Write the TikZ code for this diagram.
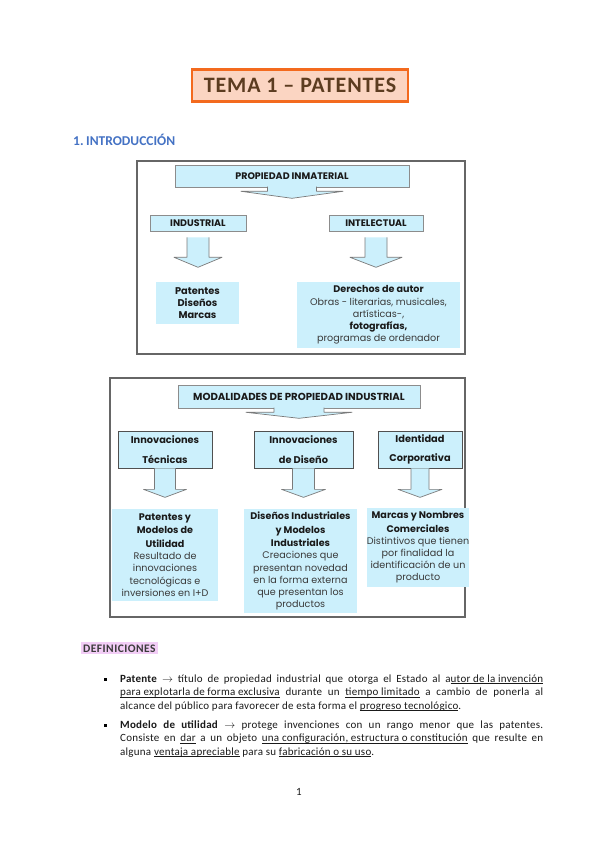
\documentclass[tikz,border=0pt]{standalone}
\usepackage{fontspec}
\setmainfont{Carlito}
\newfontfamily\dg{Poppins}
\newfontfamily\widefont{Carlito}[LetterSpace=4]
\newfontfamily\bodyfont{Carlito}[LetterSpace=2.3]
\usetikzlibrary{calc}
\newsavebox\ulbox
\newcommand\uline[1]{\sbox\ulbox{#1}\rlap{\rule[-1.8pt]{\wd\ulbox}{0.5pt}}\usebox\ulbox}
\definecolor{cyanfill}{HTML}{CCF0FC}
\definecolor{boxline}{HTML}{8C8C8C}
\definecolor{rowline}{HTML}{505050}
\definecolor{arrline}{HTML}{7A7A7A}
\definecolor{framecol}{HTML}{666666}
\definecolor{txt}{HTML}{1A1A1A}
\definecolor{txtlight}{HTML}{3A3A3A}
\definecolor{titlefill}{HTML}{FBD5C2}
\definecolor{titleline}{HTML}{F36A1E}
\definecolor{titletext}{HTML}{5C3C20}
\definecolor{headblue}{HTML}{4472C4}
\definecolor{defhl}{HTML}{F2CDF6}
\definecolor{bodytext}{HTML}{1A1A1A}
\newcommand\barrow[6]{% node, gap, stem length, stem half width, head half width, head depth
  \fill[cyanfill] ($(#1.south)+(-#4,#2)$) -- ++(0,#3) -- ++({-(#5-#4)},0)
     -- ($(#1.south)+(0,#2+#3+#6)$) -- ($(#1.south)+(#5,#2+#3)$) -- ++({-(#5-#4)},0)
     -- ($(#1.south)+(#4,#2)$) -- cycle;
  \draw[arrline, line width=0.7pt, line join=round] ($(#1.south)+(-#4,#2)$) -- ++(0,#3) -- ++({-(#5-#4)},0)
     -- ($(#1.south)+(0,#2+#3+#6)$) -- ($(#1.south)+(#5,#2+#3)$) -- ++({-(#5-#4)},0)
     -- ($(#1.south)+(#4,#2)$);
}
\tikzset{
  hbox/.style={fill=cyanfill, draw=boxline, line width=0.6pt, inner sep=0pt, align=center,
     text=txt, font=\dg\bfseries\fontsize{9.5}{11}\selectfont},
  rbox/.style={fill=cyanfill, draw=rowline, line width=0.7pt, inner sep=0pt, align=center,
     text=txt, font=\dg\bfseries\fontsize{9.8}{11}\selectfont},
  tbox/.style={fill=cyanfill, inner sep=0pt, align=center, text=txt,
     font=\dg\fontsize{9.6}{12.2}\selectfont},
  frame/.style={draw=framecol, line width=1.1pt},
  bodyline/.style={anchor=base west, inner sep=0pt, text=bodytext,
     font=\bodyfont\fontsize{11}{13}\selectfont},
  bulletsq/.style={fill=black, minimum size=3pt, inner sep=0pt},
}
\begin{document}
\begin{tikzpicture}[x=1pt, y=-1pt]
\useasboundingbox (0,0) rectangle (599,848);
\fill[white] (0,0) rectangle (599,848);

% title
\node[fill=titlefill, draw=titleline, line width=2.6pt, minimum width=216, minimum height=32,
      inner sep=0pt, text=titletext, font=\widefont\bfseries\fontsize{22}{24}\selectfont] (title) at (300,85.5)
      {TEMA 1 – PATENTES};

\node[anchor=base west, inner sep=0pt, text=headblue, font=\bfseries\fontsize{13.5}{16}\selectfont]
   (intro) at (73,146) {\makebox[13pt][l]{1.}INTRODUCCIÓN};

% ---------- diagram 1
\node[frame, minimum width=328, minimum height=193, inner sep=0pt] (frameA) at (301,257.5) {};
\node[hbox, minimum width=234, minimum height=22] (pi) at (292,176) {PROPIEDAD INMATERIAL};
\node[hbox, minimum width=96, minimum height=16] (ind) at (198,223) {INDUSTRIAL};
\node[hbox, minimum width=94, minimum height=16] (int) at (376,223) {INTELECTUAL};
\barrow{pi}{-0.6}{4.6}{24.5}{51}{7}
\barrow{ind}{6}{20}{11}{24}{10}
\barrow{int}{6}{20}{11}{26}{10}
\node[tbox, minimum width=83, minimum height=42, font=\dg\bfseries\fontsize{9.8}{12}\selectfont] (pat) at (197.5,303)
   {Patentes\\Diseños\\Marcas};
\node[tbox, minimum width=163, minimum height=66] (der) at (378.5,315)
   {\bfseries Derechos de autor\\{\color{txtlight}Obras - literarias, musicales,}\\{\color{txtlight}artísticas-,}\\\bfseries fotografías,\\{\color{txtlight}programas de ordenador}};

% ---------- diagram 2
\node[frame, minimum width=355, minimum height=239, inner sep=0pt] (frameB) at (287.5,497.5) {};
\node[hbox, minimum width=242, minimum height=23, font=\dg\bfseries\fontsize{10.2}{11}\selectfont] (mod) at (299,396.5) {MODALIDADES DE PROPIEDAD INDUSTRIAL};
\barrow{mod}{-0.6}{4.6}{25}{53}{6}
\node[rbox, minimum width=94, minimum height=37] (it) at (165,449.5) {Innovaciones\\[8.5pt]Técnicas};
\node[rbox, minimum width=99, minimum height=37] (idi) at (303.5,449.5) {Innovaciones\\[8.5pt]de Diseño};
\node[rbox, minimum width=84, minimum height=37] (ic) at (420,449.5) {Identidad\\[8.5pt]Corporativa};
\barrow{it}{0}{21}{10.5}{21.5}{8}
\barrow{idi}{0}{21}{11}{22}{8}
\barrow{ic}{0}{21}{9}{22}{8}
\node[tbox, minimum width=106, minimum height=92] (pm) at (165,555)
   {\bfseries Patentes y\\[1.3pt]\bfseries Modelos de\\[1.3pt]\bfseries Utilidad\\
    {\color{txtlight}Resultado de}\\{\color{txtlight}innovaciones}\\{\color{txtlight}tecnológicas e}\\{\color{txtlight}inversiones en I+D}};
\node[tbox, minimum width=113, minimum height=104] (di) at (300.5,561)
   {\bfseries Diseños Industriales\\[1.3pt]\bfseries y Modelos\\[1.3pt]\bfseries Industriales\\
    {\color{txtlight}Creaciones que}\\{\color{txtlight}presentan novedad}\\{\color{txtlight}en la forma externa}\\{\color{txtlight}que presentan los}\\{\color{txtlight}productos}};
\node[tbox, minimum width=90, minimum height=79] (mn) at (418,547.5)
   {\bfseries Marcas y Nombres\\[1.3pt]\bfseries Comerciales\\
    {\color{txtlight}Distintivos que tienen}\\{\color{txtlight}por finalidad la}\\{\color{txtlight}identificación de un}\\{\color{txtlight}producto}};

% ---------- definiciones
\node[fill=defhl, inner xsep=2.5pt, inner ysep=2pt, text=txtlight, font=\widefont\bfseries\fontsize{11.5}{12}\selectfont,
      anchor=base west] (defs) at (80.5,652) {DEFINICIONES};

\node[bulletsq] (b1) at (105.5,679) {};
\node[bodyline] (l1) at (120,682) {\makebox[423pt][s]{\textbf{Patente} $\rightarrow$ título de propiedad industrial que otorga el Estado al a\uline{utor de la invención}}};
\node[bodyline] (l2) at (120,695.5) {\makebox[423pt][s]{\uline{para explotarla de forma exclusiva} durante un \uline{tiempo limitado} a cambio de ponerla al}};
\node[bodyline] (l3) at (120,709) {alcance del público para favorecer de esta forma el \uline{progreso tecnológico}.};

\node[bulletsq] (b2) at (105.5,725) {};
\node[bodyline] (l4) at (120,728) {\makebox[423pt][s]{\textbf{Modelo de utilidad} $\rightarrow$ protege invenciones con un rango menor que las patentes.}};
\node[bodyline] (l5) at (120,741.5) {\makebox[423pt][s]{Consiste en \uline{dar} a un objeto \uline{una configuración, estructura o constitución} que resulte en}};
\node[bodyline] (l6) at (120,755) {alguna \uline{ventaja apreciable} para su \uline{fabricación o su uso}.};

\node[inner sep=0pt, text=bodytext, font=\fontsize{11}{12}\selectfont] (pnum) at (299,792) {1};
\end{tikzpicture}
\end{document}
